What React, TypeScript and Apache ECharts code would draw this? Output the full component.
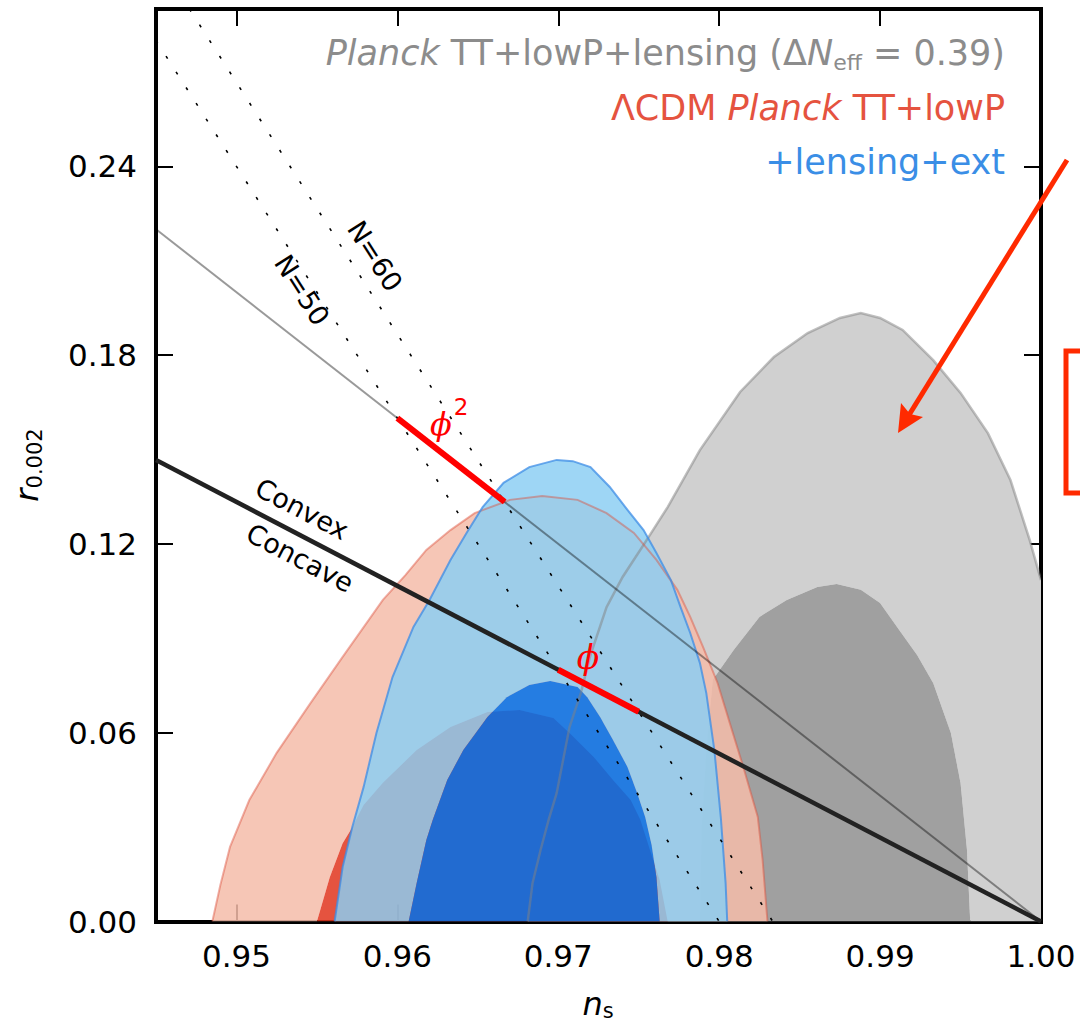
import { useEffect, useRef } from "react";
import * as echarts from "echarts";

type Pt = [number, number];

const FONT = "DejaVu Sans";

const X_TICKS = [0.95, 0.96, 0.97, 0.98, 0.99, 1.0];
const Y_TICKS = [0, 0.06, 0.12, 0.18, 0.24];

// ΛCDM Planck TT+lowP — 95% and 68% regions (n_s, r)
const redOuter: Pt[] = [
  [0.9485, 0], [0.949, 0.0116], [0.9496, 0.0237], [0.9508, 0.0386], [0.9525, 0.0536],
  [0.9546, 0.0694], [0.9566, 0.0841], [0.9591, 0.1022], [0.9605, 0.1101], [0.9618, 0.1181],
  [0.9633, 0.1244], [0.9648, 0.1298], [0.967, 0.134], [0.969, 0.1352], [0.9712, 0.134],
  [0.973, 0.1298], [0.9747, 0.1235], [0.9761, 0.1149], [0.9774, 0.1054], [0.9782, 0.0968],
  [0.979, 0.0872], [0.9799, 0.0758], [0.9807, 0.0624], [0.9815, 0.0491], [0.9824, 0.0332],
  [0.9827, 0.0195], [0.983, 0],
];
const redInner: Pt[] = [
  [0.955, 0], [0.9558, 0.0141], [0.9566, 0.0249], [0.9571, 0.0291], [0.9579, 0.037],
  [0.9591, 0.0441], [0.9612, 0.0545], [0.9633, 0.0618], [0.9656, 0.0666], [0.9676, 0.0672],
  [0.9697, 0.0647], [0.9707, 0.0599], [0.9722, 0.0523], [0.9734, 0.045], [0.9745, 0.0386],
  [0.9751, 0.0323], [0.9757, 0.0227], [0.9763, 0.0132], [0.9768, 0],
];

// +lensing+ext
const blueOuter: Pt[] = [
  [0.9561, 0], [0.9566, 0.0173], [0.9572, 0.03], [0.9579, 0.0427], [0.9587, 0.0599],
  [0.9597, 0.0777], [0.961, 0.0936], [0.962, 0.1022], [0.9633, 0.1149], [0.9643, 0.1235],
  [0.9653, 0.1317], [0.9666, 0.1394], [0.9682, 0.1444], [0.9699, 0.1467], [0.9709, 0.1463],
  [0.972, 0.1444], [0.9732, 0.1381], [0.9743, 0.1308], [0.9753, 0.1244], [0.9761, 0.1171],
  [0.977, 0.1085], [0.9776, 0.0999], [0.9782, 0.0917], [0.9788, 0.0822], [0.9792, 0.0726],
  [0.9797, 0.0545], [0.9801, 0.0332], [0.9804, 0.0122], [0.9805, 0],
];
const blueInner: Pt[] = [
  [0.9607, 0], [0.9612, 0.0122], [0.9618, 0.0259], [0.9622, 0.0323], [0.9631, 0.045],
  [0.9641, 0.0545], [0.9656, 0.065], [0.9668, 0.0713], [0.9682, 0.0752], [0.9695, 0.0764],
  [0.9712, 0.0745], [0.9718, 0.0713], [0.9726, 0.065], [0.9734, 0.0577], [0.9743, 0.0491],
  [0.9749, 0.0408], [0.9754, 0.0332], [0.9758, 0.0243], [0.9761, 0.0141], [0.9763, 0],
];

// Planck TT+lowP+lensing with ΔN_eff = 0.39
const greyOuter: Pt[] = [
  [0.9681, 0], [0.9684, 0.0122], [0.9689, 0.0227], [0.9694, 0.0323], [0.9699, 0.0408],
  [0.9703, 0.0513], [0.9707, 0.0618], [0.9714, 0.0726], [0.972, 0.0847], [0.973, 0.0999],
  [0.974, 0.1095], [0.9753, 0.1197], [0.9768, 0.1317], [0.9788, 0.1498], [0.9813, 0.1683],
  [0.9834, 0.1794], [0.9855, 0.187], [0.9875, 0.1918], [0.9888, 0.1934], [0.99, 0.1918],
  [0.9914, 0.188], [0.9933, 0.1784], [0.995, 0.168], [0.9967, 0.1552], [0.9981, 0.1403],
  [0.9993, 0.1212], [1.0, 0.1085],
];
const greyOuterEdge: Pt[] = [[1.0, 0]];
const greyInner: Pt[] = [
  [0.9788, 0], [0.9789, 0.0291], [0.9792, 0.0545], [0.9796, 0.0768], [0.9809, 0.0863],
  [0.9825, 0.0968], [0.9842, 0.1022], [0.9861, 0.1063], [0.9873, 0.1073], [0.9888, 0.1054],
  [0.99, 0.1012], [0.9912, 0.0926], [0.9923, 0.0847], [0.9933, 0.0758], [0.9944, 0.0599],
  [0.995, 0.044], [0.9954, 0.0227], [0.9956, 0],
];

// Model predictions
const phi2Line: Pt[] = [[0.945, 0.22], [1.0, 0]];
const linearLine: Pt[] = [[0.945, 0.14667], [1.0, 0]];
const n50Line: Pt[] = [[0.945, 0.28], [0.98, 0]];
const n60Line: Pt[] = [[0.94708, 0.29], [0.98333, 0]];
const phi2Segment: Pt[] = [[0.96, 0.16], [0.96667, 0.13333]];
const phiSegment: Pt[] = [[0.97, 0.08], [0.975, 0.06667]];

// Outer band = outer contour followed by the inner contour walked backwards
const band = (outer: Pt[], inner: Pt[]): Pt[] => outer.concat(inner.slice().reverse());

const polygonSeries = (pts: Pt[], fill: string, z: number) => ({
  type: "custom",
  z,
  silent: true,
  clip: true,
  data: [pts[0]],
  renderItem: (_p: any, api: any) => ({
    type: "polygon",
    shape: { points: pts.map((p) => api.coord(p)) },
    style: { fill, stroke: null },
  }),
});

const outlineSeries = (pts: Pt[], stroke: string, lineWidth: number, z: number) => ({
  type: "custom",
  z,
  silent: true,
  clip: true,
  data: [pts[0]],
  renderItem: (_p: any, api: any) => ({
    type: "polyline",
    shape: { points: pts.map((p) => api.coord(p)) },
    style: { fill: null, stroke, lineWidth },
  }),
});

const lineSeries = (data: Pt[], lineStyle: any, z: number) => ({
  type: "line",
  data,
  z,
  silent: true,
  clip: true,
  symbol: "none",
  lineStyle,
});

const axisBase = {
  type: "value",
  splitLine: { show: false },
  axisLine: { show: true, onZero: false, lineStyle: { color: "#000", width: 4, cap: "square" } },
};

const tickStyle = (values: number[]) => ({
  show: true,
  inside: true,
  length: 17,
  customValues: values,
  lineStyle: { color: "#000", width: 2 },
});

const labelStyle = (values: number[], margin: number) => ({
  show: true,
  customValues: values,
  formatter: (v: number) => v.toFixed(2),
  fontSize: 31,
  fontFamily: FONT,
  color: "#000",
  margin,
});

const text = (x: number, y: number, str: string, opts: any = {}, rotation = 0) => ({
  type: "text",
  x,
  y,
  rotation,
  z: 100,
  silent: true,
  style: {
    text: str,
    textAlign: "center",
    textVerticalAlign: "middle",
    fontFamily: FONT,
    fontSize: 27,
    fill: "#000",
    ...opts,
  },
});

const legendLine = (y: number, str: string, fill: string) =>
  text(1005, y, str, {
    textAlign: "right",
    fill,
    fontSize: 35,
    lineHeight: 40,
    rich: {
      t: { fontSize: 35, fontFamily: FONT, fill, lineHeight: 40, verticalAlign: "middle" },
      i: { fontSize: 35, fontFamily: FONT, fill, fontStyle: "italic", lineHeight: 40, verticalAlign: "middle" },
      s: { fontSize: 22, fontFamily: FONT, fill, lineHeight: 16, verticalAlign: "bottom" },
    },
  });

const ARROW = "#ff2a00";

export default function App() {
  const ref = useRef<HTMLDivElement>(null);

  useEffect(() => {
    if (!ref.current) return;
    const chart = echarts.init(ref.current, undefined, { renderer: "svg" });

    chart.setOption({
      animation: false,
      backgroundColor: "#fff",
      grid: { left: 156, right: 39, top: 9, bottom: 107.5, containLabel: false },
      xAxis: [
        { ...axisBase, min: 0.945, max: 1.0, position: "bottom", axisTick: tickStyle(X_TICKS), axisLabel: labelStyle(X_TICKS, 19) },
        { ...axisBase, min: 0.945, max: 1.0, position: "top", axisTick: tickStyle(X_TICKS), axisLabel: { show: false } },
      ],
      yAxis: [
        { ...axisBase, min: 0, max: 0.29, position: "left", axisTick: tickStyle(Y_TICKS), axisLabel: labelStyle(Y_TICKS, 19) },
        { ...axisBase, min: 0, max: 0.29, position: "right", axisTick: tickStyle(Y_TICKS), axisLabel: { show: false } },
      ],
      series: [
        // ΔN_eff contours
        polygonSeries(band(greyOuter.concat(greyOuterEdge), greyInner), "rgb(208,208,208)", 1),
        polygonSeries(greyInner, "rgb(160,160,160)", 2),
        // ΛCDM Planck TT+lowP
        polygonSeries(band(redOuter, redInner), "rgba(244,188,169,0.85)", 3),
        polygonSeries(redInner, "rgba(224,53,29,0.85)", 4),
        // +lensing+ext
        polygonSeries(band(blueOuter, blueInner), "rgba(138,206,243,0.83)", 5),
        polygonSeries(blueInner, "rgba(0,112,234,0.85)", 6),
        // contour edges
        outlineSeries(greyOuter, "rgba(130,130,130,0.5)", 2.5, 7),
        outlineSeries(redOuter, "rgba(220,80,60,0.45)", 2, 7),
        outlineSeries(blueOuter, "rgba(60,140,230,0.75)", 2, 7),
        // e-fold loci
        lineSeries(n50Line, { color: "#000", width: 1.6, type: [3, 15.6] }, 8),
        lineSeries(n60Line, { color: "#000", width: 1.6, type: [3, 15.6] }, 8),
        // power-law potentials
        lineSeries(phi2Line, { color: "rgba(0,0,0,0.4)", width: 2 }, 9),
        lineSeries(linearLine, { color: "#222", width: 4.5 }, 9),
        lineSeries(phi2Segment, { color: "#ff0000", width: 6 }, 10),
        lineSeries(phiSegment, { color: "#ff0000", width: 6 }, 10),
      ],
      graphic: [
        legendLine(53, "{i|Planck}{t| TT+lowP+lensing (Δ}{i|N}{s|eff}{t| = 0.39)}", "#8c8c8c"),
        legendLine(108, "{t|ΛCDM }{i|Planck}{t| TT+lowP}", "#e5533f"),
        legendLine(162, "{t|+lensing+ext}", "#3a8ee6"),

        text(375, 256, "N=60", {}, -1.002),
        text(302, 290, "N=50", {}, -1.002),
        text(302, 509, "Convex", {}, -0.48),
        text(300, 558, "Concave", {}, -0.48),

        text(441, 424, "ϕ", { fontFamily: "DejaVu Serif", fontStyle: "italic", fontSize: 32, fill: "#ff0000" }),
        text(461, 407, "2", { fontSize: 23, fill: "#ff0000" }),
        text(588, 657, "ϕ", { fontFamily: "DejaVu Serif", fontStyle: "italic", fontSize: 33, fill: "#ff0000" }),

        // axis titles
        text(598, 1004, "{i|n}{s|s}", {
          fontSize: 31,
          lineHeight: 34,
          rich: {
            i: { fontSize: 32, fontFamily: FONT, fontStyle: "italic", fill: "#000", lineHeight: 34, verticalAlign: "middle" },
            s: { fontSize: 21, fontFamily: FONT, fill: "#000", lineHeight: 14, verticalAlign: "bottom" },
          },
        }),
        text(27, 465, "{i|r}{s|0.002}", {
          fontSize: 32,
          lineHeight: 36,
          rich: {
            i: { fontSize: 32, fontFamily: FONT, fontStyle: "italic", fill: "#000", lineHeight: 36, verticalAlign: "middle" },
            s: { fontSize: 21, fontFamily: FONT, fill: "#000", lineHeight: 14, verticalAlign: "bottom" },
          },
        }, Math.PI / 2),

        // callout arrow and bracket
        {
          type: "line",
          z: 100,
          silent: true,
          shape: { x1: 1067, y1: 160, x2: 909, y2: 415 },
          style: { stroke: ARROW, lineWidth: 5 },
        },
        {
          type: "polygon",
          z: 100,
          silent: true,
          shape: { points: [[898, 433], [901, 403], [910, 414], [923, 417]] },
          style: { fill: ARROW },
        },
        {
          type: "polyline",
          z: 100,
          silent: true,
          shape: { points: [[1082, 351], [1066, 351], [1066, 493], [1082, 493]] },
          style: { stroke: ARROW, lineWidth: 5, fill: null },
        },
      ],
    });

    return () => chart.dispose();
  }, []);

  return (
    <div
      ref={ref}
      style={{ position: "absolute", left: 0, top: 0, width: 1080, height: 1029, background: "#fff" }}
    />
  );
}
